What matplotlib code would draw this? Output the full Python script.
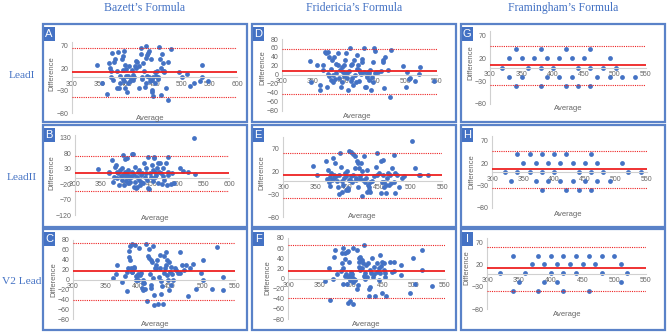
import matplotlib.pyplot as plt
from matplotlib.patches import Rectangle

W, H = 667, 332
BLUE = '#4472c4'
RED = '#ee2222'
GREY = '#666666'
AXIS = '#d0d0d0'

col_titles = ["Bazett’s Formula", "Fridericia’s Formula", "Framingham’s Formula"]
row_titles = ["LeadI", "LeadII", "V2 Lead"]
letters = ["A", "B", "C", "D", "E", "F", "G", "H", "I"]

# Bland-Altman values (average, difference)
a_x = [346, 355, 364, 367, 369, 370, 371, 373, 374, 376, 379, 381, 381, 384, 385, 387, 388, 390,
       392, 392, 393, 394, 395, 396, 396, 398, 399, 400, 401, 402, 404, 405, 407, 409, 410, 411,
       413, 415, 416, 417, 419, 421, 422, 425, 426, 427, 428, 429, 431, 432, 434, 434, 435, 436,
       437, 439, 440, 440, 442, 443, 445, 445, 446, 448, 448, 450, 451, 453, 454, 456, 457, 459,
       460, 461, 462, 463, 465, 466, 467, 468, 471, 474, 475, 480, 495, 500, 509, 515, 521, 532,
       537, 537, 547]
a_y = [27, -13, -38, 32, 21, 15, 0, 55, -6, 35, 41, 13, -24, 56, -24, 2, -13, 40,
       47, -3, 17, 58, -9, -24, 28, 2, 18, -32, -13, 2, 25, -9, -2, 17, 6, -6,
       0, 25, 36, 21, 35, 25, -24, 66, 53, 0, -4, 32, 13, -21, 71, 43, -13, 2,
       49, 55, 58, 0, -9, 40, -28, -7, -34, -42, 0, 11, -13, 2, 15, 0, -4, 67,
       41, 21, -39, 51, 32, 15, 11, 13, -24, 35, -51, 64, 11, 0, 8, -19, -13, -9,
       28, 0, -8]

b_x = [345, 366, 367, 372, 374, 376, 378, 379, 381, 382, 384, 386, 387, 389, 391, 392, 394, 394,
       395, 397, 397, 399, 400, 401, 402, 403, 404, 405, 407, 408, 409, 411, 412, 413, 414, 415,
       416, 417, 418, 420, 421, 422, 424, 425, 426, 428, 429, 431, 433, 435, 436, 438, 439, 441,
       442, 443, 445, 446, 448, 450, 451, 452, 454, 454, 455, 456, 458, 460, 461, 462, 464, 465,
       467, 469, 471, 472, 474, 477, 479, 481, 481, 482, 487, 489, 492, 505, 510, 520, 532, 533]
b_y = [28, 20, 15, 58, -12, 4, 34, 42, 20, -1, 15, -23, 26, 6, 31, -6, 10, 74,
       -23, 60, 20, 4, -9, 63, 13, -17, 26, -1, 7, -12, 4, 76, 20, 77, -30, 10,
       -12, 36, -33, 4, -28, 20, -6, 26, -23, 10, -12, 15, -17, 49, 4, 31, 15, -6,
       -33, 69, -37, 15, 4, 42, -9, 26, 63, 66, 4, 20, 10, 31, -17, 47, 20, 47,
       15, -19, 6, 31, -6, 47, -23, 69, 10, 20, -19, 15, -17, 32, 22, 20, 129, 12]

c_x = [362, 366, 369, 376, 381, 383, 384, 385, 386, 387, 388, 389, 390, 391, 392, 392, 394, 395,
       396, 397, 398, 399, 400, 401, 402, 404, 405, 406, 408, 409, 409, 410, 411, 413, 414, 416,
       417, 418, 419, 420, 421, 421, 422, 423, 424, 426, 426, 427, 428, 429, 430, 431, 433, 434,
       435, 436, 436, 438, 439, 440, 441, 442, 443, 444, 445, 446, 447, 448, 449, 450, 451, 452,
       453, 454, 457, 459, 462, 465, 466, 469, 472, 475, 477, 480, 485, 490, 498, 500, 501, 515,
       523, 531, 532]
c_y = [3, 12, 30, -6, 8, -24, 15, 23, 58, 45, 40, 67, 23, 16, 72, 15, 26, 23,
       70, -1, 7, 7, 11, -1, 64, 9, 13, -18, -7, -21, -1, -7, -19, 72, -43, 47,
       43, 61, 11, 40, -11, -18, 36, 67, 3, -31, -51, 23, 30, 23, 40, -50, 6, 50,
       23, -4, -30, -14, -50, 47, 13, 23, 30, 55, 9, 40, -1, -21, 36, 16, 26, -11,
       11, -1, 23, 20, 13, 55, 13, 30, 20, 30, -33, 23, 31, -19, 13, 0, 40, -19,
       65, 6, -21]

d_x = [345, 348, 357, 361, 362, 366, 367, 370, 372, 373, 374, 375, 376, 377, 379, 380, 381, 382,
       383, 384, 386, 387, 388, 390, 391, 392, 394, 396, 397, 398, 399, 400, 401, 402, 403, 404,
       405, 406, 407, 408, 410, 411, 412, 413, 414, 415, 417, 418, 420, 421, 422, 423, 424, 425,
       426, 428, 429, 430, 432, 433, 434, 436, 437, 438, 439, 440, 441, 442, 444, 445, 447, 448,
       449, 450, 451, 452, 455, 460, 463, 464, 465, 467, 471, 474, 477, 496, 500, 502, 505, 507,
       515, 522, 523, 546]
d_y = [31, -16, 22, -23, -33, 10, 23, 51, 49, -28, 1, 50, -3, 40, -12, 14, 33, -1,
       -16, 39, -10, 4, 25, 48, 22, -6, 10, -28, -16, 18, 7, -3, 22, 33, 5, 49,
       -7, 4, -34, 8, 59, -14, 22, 25, -6, -23, 33, -1, -16, 14, 44, 22, 10, -13,
       7, 3, 29, 36, 60, 7, -27, -28, -1, -4, 7, 5, -12, 10, -34, -4, -16, 29,
       59, 54, 4, 7, 7, 9, 33, 29, -30, 40, 10, -49, 55, 19, -27, 7, -10, -8,
       -13, 1, 18, -13]

e_x = [347, 353, 367, 369, 371, 372, 373, 374, 375, 376, 378, 379, 380, 381, 383, 385, 386, 387,
       388, 389, 391, 392, 393, 394, 396, 397, 398, 399, 400, 401, 402, 403, 404, 405, 406, 407,
       408, 409, 410, 412, 413, 414, 415, 416, 417, 418, 419, 420, 421, 422, 423, 424, 425, 427,
       429, 430, 431, 432, 433, 434, 435, 436, 437, 440, 443, 445, 447, 448, 450, 453, 454, 455,
       456, 457, 458, 459, 461, 462, 463, 464, 466, 468, 469, 471, 474, 474, 475, 476, 479, 482,
       487, 489, 502, 507, 513, 515, 527]
e_y = [31, 13, 43, 3, 24, -2, -11, 7, 16, 2, 49, 13, 5, 38, 9, 0, -13, -29,
       13, 61, 29, 0, -24, -9, 5, 16, -20, 9, 22, -20, -16, 2, 64, 2, 9, 62,
       -4, 58, 13, 27, 53, 5, 2, 44, 38, -13, 27, 9, 3, 38, -33, 20, 2, 53,
       -2, 5, 24, -24, -9, -20, -13, -24, -2, 0, 9, 29, 60, 13, 16, 42, -27, -4,
       45, 13, -13, -2, -9, -27, 5, 16, -9, 13, -5, 27, 56, -2, -27, 16, 13, -13,
       5, 9, 87, 27, 13, 13, 13]

f_x = [358, 365, 366, 372, 373, 374, 377, 384, 386, 386, 387, 388, 388, 390, 391, 391, 392, 393,
       394, 395, 396, 396, 397, 398, 398, 399, 400, 401, 402, 403, 403, 404, 405, 406, 409, 410,
       411, 412, 412, 413, 414, 415, 416, 417, 418, 419, 420, 421, 422, 423, 424, 426, 427, 428,
       429, 430, 431, 432, 433, 435, 436, 437, 439, 441, 442, 444, 445, 446, 447, 448, 449, 450,
       452, 453, 454, 455, 456, 462, 465, 468, 469, 480, 480, 499, 502, 494, 513, 514, 529]
f_y = [-5, 20, -43, 0, 43, 56, 8, 15, 30, 50, 60, 20, -10, 5, 51, 38, 8, -10,
       53, -48, 54, 3, 33, 7, -45, -3, 12, 3, 8, 61, -50, -7, 0, -3, 56, -20,
       -13, 41, 33, 23, 43, 17, 36, 36, 20, 31, 5, 66, 0, 11, 26, 3, 30, -21,
       -35, -17, 17, 10, 41, 3, 8, 23, -34, 13, 30, -3, 20, 10, 46, 25, 33, -28,
       30, 17, 3, 10, -35, 33, 13, 15, 33, 26, 7, 40, -10, -28, 56, 17, -15]

g_x = [341, 381, 421, 461,
       330, 351, 371, 391, 411, 431, 451, 492,
       320, 361, 381, 401, 441, 461, 481, 502,
       330, 351, 391, 411, 431, 471, 492, 512, 532,
       341, 381, 421, 441, 461]
g_y = [40, 40, 40, 40,
       20, 20, 20, 20, 20, 20, 20, 20,
       0, 0, 0, 0, 0, 0, 0, 0,
       -20, -20, -20, -20, -20, -20, -20, -20, -20,
       -40, -40, -40, -40, -40]

h_x = [340, 361, 381, 400, 420, 460,
       350, 370, 390, 410, 430, 450, 470, 510,
       320, 340, 361, 381, 400, 440, 460, 480, 520, 540,
       330, 370, 390, 410, 430, 450, 470, 490,
       381, 420, 440, 460]
h_y = [40, 40, 40, 40, 40, 40,
       20, 20, 20, 20, 20, 20, 20, 20,
       0, 0, 0, 0, 0, 0, 0, 0, 0, 0,
       -20, -20, -20, -20, -20, -20, -20, -20,
       -40, -40, -40, -40]

i_x = [340, 380, 400, 420, 440, 460, 480, 500,
       370, 390, 410, 430, 450, 470, 510,
       320, 360, 400, 420, 440, 480, 520,
       350, 390, 410, 510,
       340, 380, 420, 460]
i_y = [41, 41, 41, 41, 41, 41, 41, 41,
       21, 21, 21, 21, 21, 21, 21,
       1, 1, 1, 1, 1, 1, 1,
       -19, -19, -19, -19,
       -39, -39, -39, -39]

# mean difference and limits of agreement, panels A..I
means = [11, 16, 17, 8, 12, 15, 5, 7, 12]
upper = [65, 72, 74, 58, 61, 67, 48, 47, 61]
lower = [-45, -41, -41, -42, -38, -38, -39, -35, -39]

xs_all = [a_x, b_x, c_x, d_x, e_x, f_x, g_x, h_x, i_x]
ys_all = [a_y, b_y, c_y, d_y, e_y, f_y, g_y, h_y, i_y]

# layout in pixels
box_cols = [(43, 247), (252, 456), (461, 665)]
box_rows = [(24, 122), (125, 227), (229, 330)]
ax_px = [(72, 237, 41.5, 113), (75, 229, 134.6, 215), (72.7, 235, 240, 319),
         (281.7, 436.7, 39, 110.7), (283.3, 442.3, 136.9, 217), (288.3, 445, 238, 319),
         (490, 646, 31.1, 104), (492.3, 646.7, 136.2, 208), (487.3, 646, 238.3, 309)]
ylims = [(-80, 80), (-120, 140), (-80, 80), (-80, 80), (-80, 96), (-80, 80),
         (-80, 80), (-80, 80), (-80, 80)]
yticks = [[-80, -30, 20, 70], [-120, -70, -20, 30, 80, 130], list(range(-80, 81, 20)),
          list(range(-80, 81, 20)), [-80, -30, 20, 70], list(range(-80, 81, 20)),
          [-80, -30, 20, 70], [-80, -30, 20, 70], [-80, -30, 20, 70]]
xmax = [600, 600, 550, 550, 550, 550, 550, 550, 550]
diff_px = [(52, 74), (52, 173), (54, 280), (263, 68), (262, 173), (268, 278),
           (471, 63), (472, 172), (467, 268)]
avg_px = [(150, 119), (155, 218), (155, 325), (357, 117), (362, 217), (366, 324),
          (568, 109), (568, 214), (567, 315)]


def frac(x, y):
    return x / W, 1 - y / H


fig = plt.figure(figsize=(W / 100, H / 100), dpi=100)

for c, t in enumerate(col_titles):
    x = (box_cols[c][0] + box_cols[c][1]) / 2
    fig.text(*frac(x, 8), t, ha='center', va='center', color=BLUE,
             family='Liberation Serif', fontsize=8.5)
for r, t in enumerate(row_titles):
    y = (box_rows[r][0] + box_rows[r][1]) / 2
    fig.text(*frac(21.5, y + 2), t, ha='center', va='center', color=BLUE,
             family='Liberation Serif', fontsize=8.2)

for i in range(9):
    c, r = i // 3, i % 3
    x0, x1 = box_cols[c]
    y0, y1 = box_rows[r]
    fig.add_artist(Rectangle(frac(x0, y1), (x1 - x0) / W, (y1 - y0) / H,
                             transform=fig.transFigure, fill=False,
                             ec='#5a82c8', lw=1.6))
    fig.add_artist(Rectangle(frac(x0 + 0.5, y0 + 17), 11 / W, 14 / H,
                             transform=fig.transFigure, fc=BLUE, ec='none'))
    fig.text(*frac(x0 + 6, y0 + 10), letters[i], ha='center', va='center',
             color='white', fontsize=8, family='Liberation Sans')

    lx0, lx1, ly0, ly1 = ax_px[i]
    ax = fig.add_axes([lx0 / W, 1 - ly1 / H, (lx1 - lx0) / W, (ly1 - ly0) / H])
    ax.patch.set_alpha(0)
    ax.set_xlim(300, xmax[i])
    ax.set_ylim(*ylims[i])
    ax.scatter(xs_all[i], ys_all[i], s=12, color=BLUE, linewidths=0, zorder=2)
    ax.axhline(means[i], color=RED, lw=1.3, zorder=3)
    ax.axhline(upper[i], color=RED, lw=0.8, ls=(0, (1, 1)), zorder=3)
    ax.axhline(lower[i], color=RED, lw=0.8, ls=(0, (1, 1)), zorder=3)

    ax.spines['bottom'].set_position(('data', 0))
    ax.spines['top'].set_visible(False)
    ax.spines['right'].set_visible(False)
    ax.spines['bottom'].set_color(AXIS)
    ax.spines['left'].set_color(AXIS)
    ax.spines['bottom'].set_linewidth(0.8)
    ax.spines['left'].set_linewidth(0.8)
    ax.set_xticks(list(range(300, xmax[i] + 1, 50)))
    ax.set_yticks(yticks[i])
    ax.tick_params(length=0, labelsize=5, labelcolor=GREY, pad=2.5)
    for lab in ax.get_xticklabels() + ax.get_yticklabels():
        lab.set_family('Liberation Sans')

    fig.text(*frac(*diff_px[i]), 'Difference', rotation=90, ha='center', va='center',
             color=GREY, fontsize=5.5, family='Liberation Sans')
    fig.text(*frac(*avg_px[i]), 'Average', ha='center', va='center',
             color=GREY, fontsize=5.5, family='Liberation Sans')

fig.savefig('out.png', dpi=100)
